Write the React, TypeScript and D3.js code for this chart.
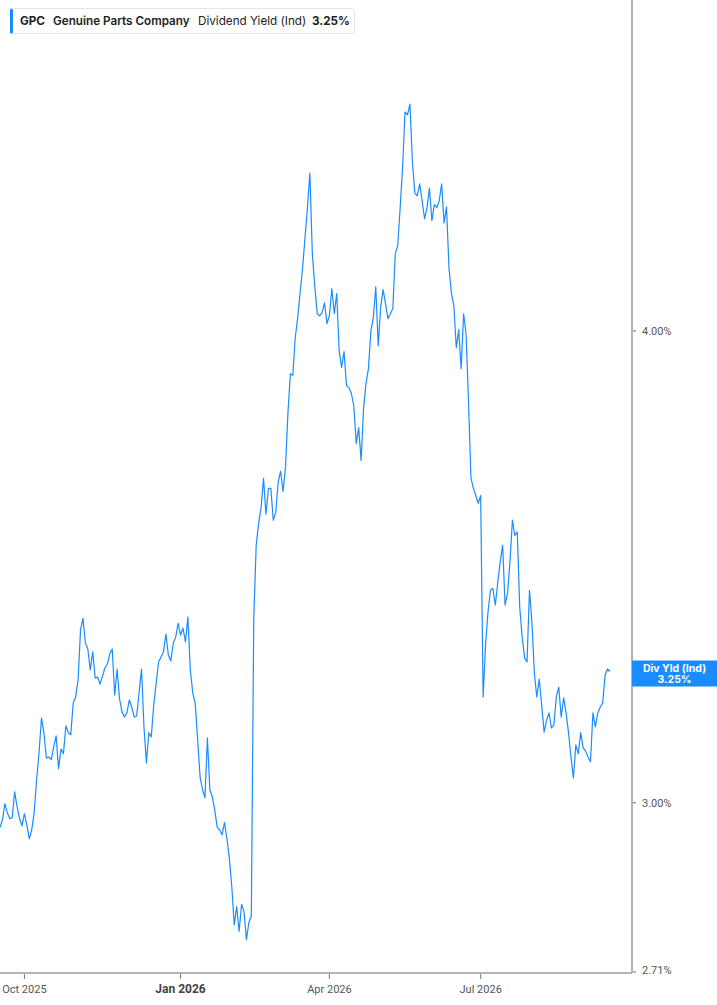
import React from 'react'
import * as d3 from 'd3'

// Dividend yield (%), one value per trading session
const divYield = [
  2.955, 2.969, 2.998, 2.982, 2.971, 2.973, 3.020, 2.993, 2.972, 2.958,
  2.980, 2.960, 2.935, 2.951, 2.982, 3.042, 3.093, 3.159, 3.131, 3.083,
  3.085, 3.080, 3.104, 3.125, 3.063, 3.100, 3.091, 3.144, 3.131, 3.127,
  3.188, 3.200, 3.233, 3.333, 3.357, 3.307, 3.295, 3.253, 3.289, 3.237,
  3.239, 3.225, 3.241, 3.257, 3.265, 3.285, 3.295, 3.204, 3.255, 3.196,
  3.171, 3.161, 3.169, 3.194, 3.180, 3.161, 3.163, 3.208, 3.255, 3.142,
  3.074, 3.131, 3.123, 3.184, 3.227, 3.269, 3.279, 3.289, 3.325, 3.283,
  3.271, 3.307, 3.319, 3.347, 3.323, 3.337, 3.309, 3.360, 3.253, 3.208,
  3.188, 3.117, 3.048, 3.024, 3.009, 3.121, 3.024, 3.011, 2.987, 2.956,
  2.951, 2.942, 2.964, 2.935, 2.900, 2.850, 2.785, 2.816, 2.774, 2.820,
  2.807, 2.760, 2.789, 2.800, 3.357, 3.510, 3.557, 3.592, 3.656, 3.577,
  3.634, 3.634, 3.564, 3.581, 3.647, 3.672, 3.627, 3.681, 3.804, 3.897,
  3.893, 3.984, 4.032, 4.094, 4.155, 4.234, 4.312, 4.404, 4.193, 4.112,
  4.042, 4.037, 4.045, 4.069, 4.018, 4.037, 4.104, 4.042, 4.092, 3.952,
  3.912, 3.950, 3.869, 3.864, 3.850, 3.822, 3.735, 3.771, 3.696, 3.815,
  3.874, 3.909, 4.000, 4.032, 4.109, 3.964, 4.057, 4.102, 4.067, 4.030,
  4.042, 4.055, 4.193, 4.213, 4.312, 4.420, 4.571, 4.563, 4.593, 4.437,
  4.351, 4.343, 4.375, 4.330, 4.283, 4.312, 4.364, 4.278, 4.320, 4.312,
  4.330, 4.375, 4.272, 4.314, 4.157, 4.094, 4.062, 3.959, 4.003, 3.909,
  4.042, 3.993, 3.834, 3.658, 3.634, 3.618, 3.601, 3.618, 3.200, 3.303,
  3.370, 3.415, 3.419, 3.384, 3.432, 3.474, 3.510, 3.384, 3.409, 3.474,
  3.564, 3.531, 3.538, 3.380, 3.319, 3.277, 3.269, 3.415, 3.349, 3.247,
  3.200, 3.235, 3.184, 3.132, 3.155, 3.169, 3.140, 3.146, 3.200, 3.219,
  3.161, 3.198, 3.169, 3.131, 3.085, 3.046, 3.108, 3.091, 3.131, 3.102,
  3.096, 3.085, 3.076, 3.169, 3.142, 3.169, 3.180, 3.188, 3.243, 3.255,
  3.250,
]

// session index where each month label sits
const xTickSessions = [10, 74, 135, 197]
const xTickLabels = ['Oct 2025', 'Jan 2026', 'Apr 2026', 'Jul 2026']
const boldTick = 'Jan 2026'

const yTickValues = [4.0, 3.0]
const yFloor = 2.706
const yCeil = 4.894

const blue = '#1a8cff'
const axisGrey = '#b4b4b4'

const App = () => {
  const width = 717
  const height = 1005
  const plotRight = 632
  const plotBottom = 972

  const x = d3.scaleLinear().domain([0, divYield.length - 1]).range([0, 610])
  const y = d3.scaleLog().domain([yFloor, yCeil]).range([plotBottom, 0])

  const line = d3.line<number>()
    .x((_, i) => x(i))
    .y((d) => y(d))

  const last = divYield[divYield.length - 1]
  const lastY = y(last)

  return (
    <svg
      width={width}
      height={height}
      style={{ position: 'absolute', left: 0, top: 0, background: '#fff' }}
    >
      <path d={line(divYield) || ''} fill="none" stroke={blue} strokeWidth={1.2} strokeLinejoin="round" />

      {/* axes */}
      <line x1={plotRight} x2={plotRight} y1={0} y2={plotBottom + 1} stroke={axisGrey} strokeWidth={2} />
      <line x1={0} x2={plotRight} y1={plotBottom + 1} y2={plotBottom + 1} stroke={axisGrey} strokeWidth={2} />

      {[...yTickValues, yFloor].map((v) => (
        <g key={v} transform={`translate(${plotRight + 1},${y(v)})`}>
          <line x1={0} x2={3} stroke="#666" strokeWidth={1} />
          <text x={9} dy={v === yFloor ? '0.2em' : '0.35em'} fontFamily="Roboto, sans-serif" fontSize={11} fill="#555">
            {v.toFixed(2)}%
          </text>
        </g>
      ))}

      {xTickSessions.map((s, i) => {
        const bold = xTickLabels[i] === boldTick
        return (
          <g key={s} transform={`translate(${x(s)},${plotBottom + 2})`}>
            <line y1={0} y2={5} stroke="#777" strokeWidth={1} />
            <text
              y={19}
              textAnchor="middle"
              fontFamily="Roboto, sans-serif"
              fontSize={bold ? 12 : 11}
              fontWeight={bold ? 700 : 400}
              fill={bold ? '#444' : '#555'}
            >
              {xTickLabels[i]}
            </text>
          </g>
        )
      })}

      {/* last value tag */}
      <g transform={`translate(${plotRight},${lastY - 11})`}>
        <rect width={width - plotRight} height={26} fill={blue} />
        <text x={(width - plotRight) / 2} y={11} textAnchor="middle" fontFamily="Inter, sans-serif" fontSize={10.5} fontWeight={700} fill="#fff">
          Div Yld (Ind)
        </text>
        <text x={(width - plotRight) / 2} y={22} textAnchor="middle" fontFamily="Inter, sans-serif" fontSize={10.5} fontWeight={700} fill="#fff">
          {last.toFixed(2)}%
        </text>
      </g>

      {/* legend */}
      <g fontFamily="Inter, sans-serif" fontSize={11.7} fill="#222">
        <rect x={10.5} y={8.5} width={344} height={25} rx={3} fill="#fff" stroke="#e6e6e6" />
        <rect x={10} y={8.5} width={3} height={25} rx={1.5} fill={blue} />
        <text x={20} y={25} fontWeight={700}>GPC</text>
        <text x={53} y={25} fontWeight={600}>Genuine Parts Company</text>
        <text x={198} y={25} fontWeight={400}>Dividend Yield (Ind)</text>
        <text x={312} y={25} fontWeight={700}>{last.toFixed(2)}%</text>
      </g>
    </svg>
  )
}

export default App
